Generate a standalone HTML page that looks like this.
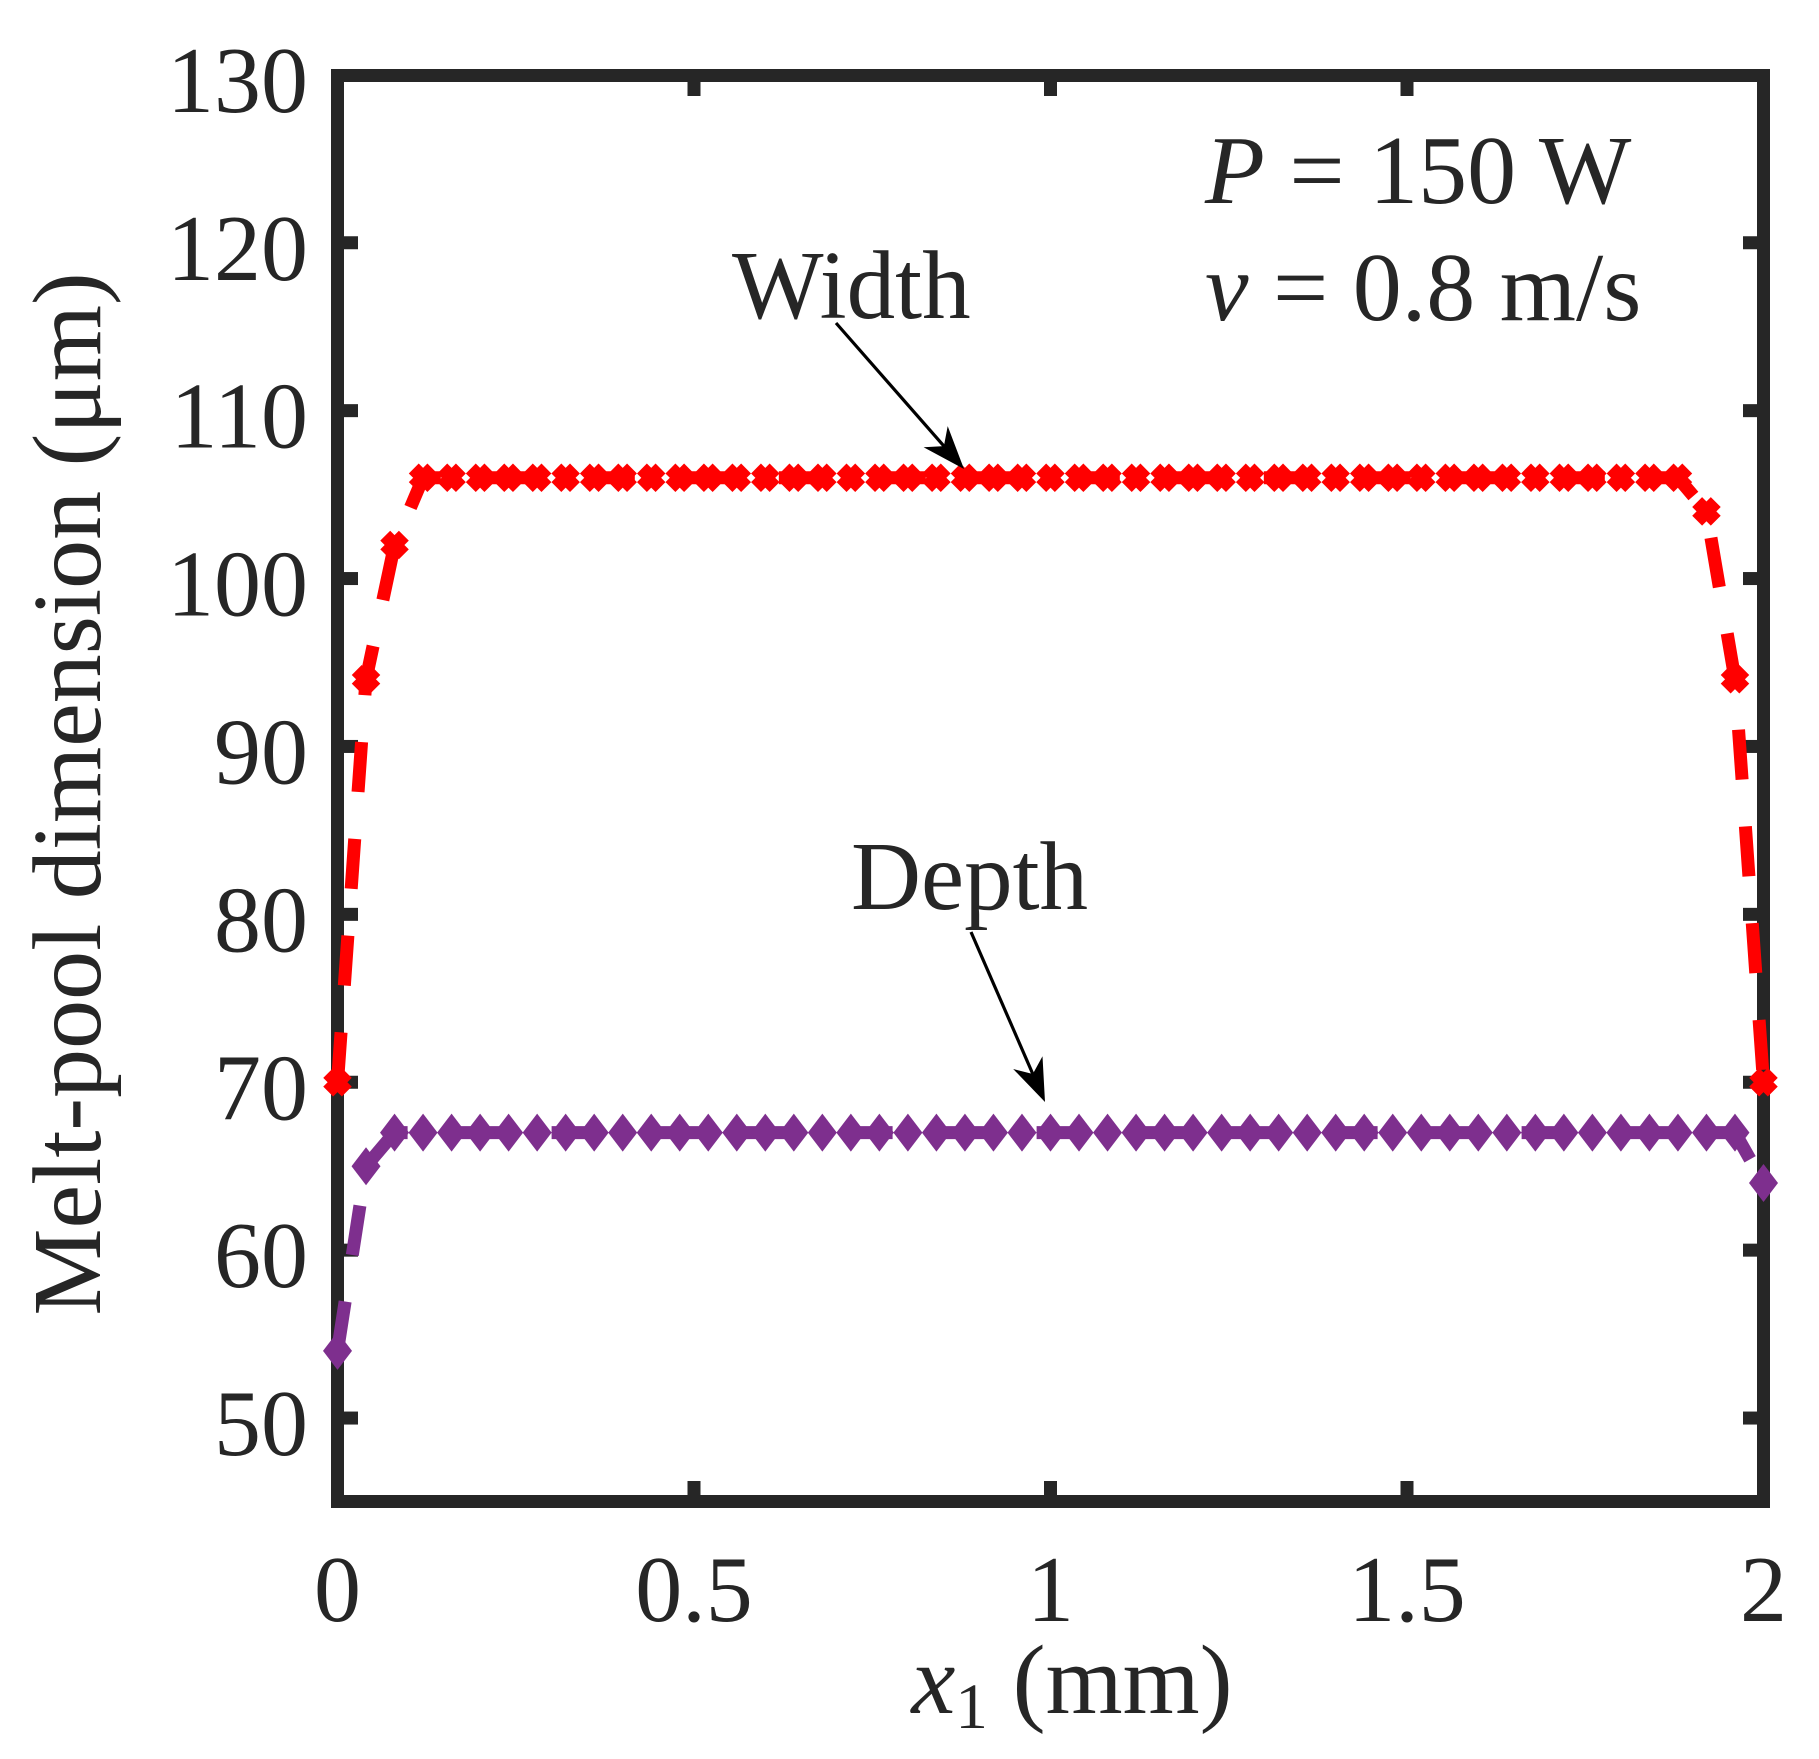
<!DOCTYPE html>
<html lang="en">
<head>
<meta charset="utf-8">
<title>Melt-pool dimension chart</title>
<style>
html,body{margin:0;padding:0;background:#fff;}
svg{display:block;}
text{font-family:"Liberation Serif","DejaVu Serif",serif;fill:#262626;font-size:97px;}
</style>
</head>
<body>
<svg id="chart" xmlns="http://www.w3.org/2000/svg" width="1819" height="1759" viewBox="0 0 1819 1759">
  <rect x="0" y="0" width="1819" height="1759" fill="#fff"/>
  <g id="ticks"></g>
  <g fill="#262626">
    <rect x="331" y="69" width="13" height="1439"/>
    <rect x="1757" y="69" width="13" height="1439"/>
    <rect x="331" y="69" width="1439" height="13"/>
    <rect x="331" y="1495" width="1439" height="13"/>
  </g>
  <g id="tick-labels"></g>
  <g id="series"></g>
  <text transform="translate(100 794) rotate(-90)" text-anchor="middle" style="font-size:98px">Melt-pool dimension (μm)</text>
  <text x="1072" y="1713" text-anchor="middle" style="font-size:99px"><tspan font-style="italic">x</tspan><tspan font-size="65" dy="15">1</tspan><tspan dy="-15"> (mm)</tspan></text>
  <text x="1205" y="203" xml:space="preserve" style="font-size:98px"><tspan font-style="italic">P</tspan> = 150 W</text>
  <text x="1205" y="320" xml:space="preserve" style="font-size:98px"><tspan font-style="italic">v</tspan> = 0.8 m/s</text>
  <text x="732" y="318">Width</text>
  <text x="851" y="909">Depth</text>
  <g id="arrows"></g>
</svg>
<script>
const xValues = [0,0.04,0.08,0.12,0.16,0.2,0.24,0.28,0.32,0.36,0.4,0.44,0.48,0.52,0.56,0.6,0.64,0.68,0.72,0.76,0.8,0.84,0.88,0.92,0.96,1,1.04,1.08,1.12,1.16,1.2,1.24,1.28,1.32,1.36,1.4,1.44,1.48,1.52,1.56,1.6,1.64,1.68,1.72,1.76,1.8,1.84,1.88,1.92,1.96,2];
const widthValues = [70,94,102,106,106,106,106,106,106,106,106,106,106,106,106,106,106,106,106,106,106,106,106,106,106,106,106,106,106,106,106,106,106,106,106,106,106,106,106,106,106,106,106,106,106,106,106,106,104,94,70];
const depthValues = [54,65,67,67,67,67,67,67,67,67,67,67,67,67,67,67,67,67,67,67,67,67,67,67,67,67,67,67,67,67,67,67,67,67,67,67,67,67,67,67,67,67,67,67,67,67,67,67,67,67,64];
const xTickValues = [0,0.5,1,1.5,2];
const xTickLabels = ['0','0.5','1','1.5','2'];
const yTickValues = [50,60,70,80,90,100,110,120,130];
const yTickLabels = ['50','60','70','80','90','100','110','120','130'];

const NS = 'http://www.w3.org/2000/svg';
function xScale(v){ return 337.5 + (v - 0) * (1763.5 - 337.5) / 2; }
function yScale(v){ return 1502 - (v - 45) * 16.79; }
function make(tag, attrs, parent){
  const el = document.createElementNS(NS, tag);
  for (const k in attrs) el.setAttribute(k, attrs[k]);
  parent.appendChild(el);
  return el;
}

const ticksG = document.getElementById('ticks');
const labelsG = document.getElementById('tick-labels');
const TICK = 27;

xTickValues.forEach(function(v, i){
  const x = xScale(v);
  if (v > 0 && v < 2) {
    const b = make('rect', {x: x - 6.5, y: 1508 - TICK, width: 13, height: TICK, fill: '#262626'}, ticksG);
    
    
    const t = make('rect', {x: x - 6.5, y: 69, width: 13, height: TICK, fill: '#262626'}, ticksG);
    
    
  }
  const l = make('text', {x: x, y: 1621, 'text-anchor': 'middle', style: 'font-size:94px'}, labelsG);
  
  
  l.textContent = xTickLabels[i];
});

yTickValues.forEach(function(v, i){
  const y = yScale(v);
  if (v < 130) {
    const a = make('rect', {x: 331, y: y - 6.5, width: TICK, height: 13, fill: '#262626'}, ticksG);
    
    
    const c = make('rect', {x: 1770 - TICK, y: y - 6.5, width: TICK, height: 13, fill: '#262626'}, ticksG);
    
    
  }
  const l = make('text', {x: 308, y: y + 37, 'text-anchor': 'end', style: 'font-size:94px'}, labelsG);
  
  
  l.textContent = yTickLabels[i];
});

const seriesG = document.getElementById('series');

function drawLine(values, color){
  let d = '';
  values.forEach(function(v, i){
    d += (i ? 'L' : 'M') + xScale(xValues[i]).toFixed(2) + ' ' + yScale(v).toFixed(2);
  });
  return make('path', {d: d, fill: 'none', stroke: color, 'stroke-width': 13, 'stroke-dasharray': '50 47', 'stroke-linejoin': 'miter'}, seriesG);
}

const widthLine = drawLine(widthValues, '#ff0000');



const depthLine = drawLine(depthValues, '#7e2f8e');



widthValues.forEach(function(v, i){
  const x = xScale(xValues[i]), y = yScale(v), a = 9.3;
  const m = make('path', {
    d: 'M' + (x - a) + ' ' + (y - a) + 'L' + (x + a) + ' ' + (y + a) + 'M' + (x - a) + ' ' + (y + a) + 'L' + (x + a) + ' ' + (y - a),
    stroke: '#ff0000', 'stroke-width': 14, fill: 'none'
  }, seriesG);
  
  
});

depthValues.forEach(function(v, i){
  const x = xScale(xValues[i]), y = yScale(v);
  const m = make('polygon', {
    points: (x - 14.5) + ',' + y + ' ' + x + ',' + (y - 19) + ' ' + (x + 14.5) + ',' + y + ' ' + x + ',' + (y + 19),
    fill: '#7e2f8e'
  }, seriesG);
  
  
});

function drawArrow(x0, y0, x1, y1, parent){
  const L = Math.hypot(x1 - x0, y1 - y0), ux = (x1 - x0) / L, uy = (y1 - y0) / L, nx = uy, ny = -ux;
  const g = make('g', {}, parent);
  make('line', {x1: x0, y1: y0, x2: x1 - 30 * ux, y2: y1 - 30 * uy, stroke: '#000', 'stroke-width': 3.2}, g);
  const pts = [
    [x1, y1],
    [x1 - 43 * ux + 16 * nx, y1 - 43 * uy + 16 * ny],
    [x1 - 30.5 * ux, y1 - 30.5 * uy],
    [x1 - 43 * ux - 16 * nx, y1 - 43 * uy - 16 * ny]
  ];
  make('polygon', {points: pts.map(function(p){ return p[0].toFixed(1) + ',' + p[1].toFixed(1); }).join(' '), fill: '#000'}, g);
  return g;
}

const arrowsG = document.getElementById('arrows');
const widthArrow = drawArrow(836, 323, 964, 469, arrowsG);


const depthArrow = drawArrow(971, 932, 1045, 1102, arrowsG);


</script>
</body>
</html>
